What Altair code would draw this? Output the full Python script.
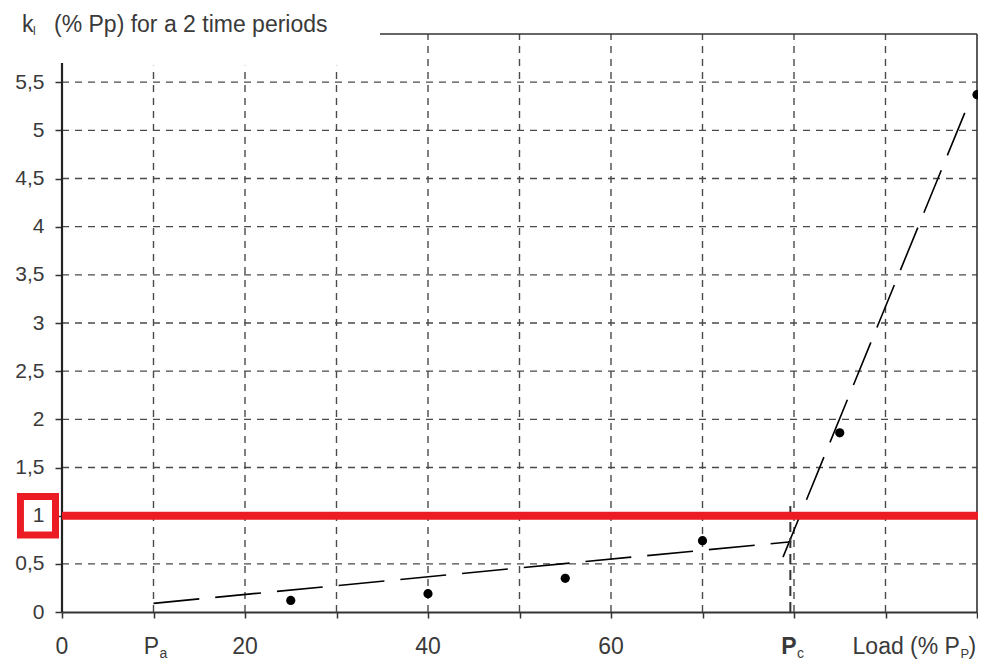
import altair as alt
import pandas as pd

# ---- data ----
load_pct = [25, 40, 55, 70, 85, 100]
kl_values = [0.12, 0.19, 0.35, 0.74, 1.86, 5.37]

fit_low_x = [10, 79.7]
fit_low_y = [0.09, 0.73]
fit_high_x = [78.8, 99.0]
fit_high_y = [0.57, 5.26]

pc_x = [79.6]
pc_y_from = [0.0]
pc_y_to = [1.1]

y_tick_values = [0, 0.5, 1, 1.5, 2, 2.5, 3, 3.5, 4, 4.5, 5, 5.5]
x_tick_values = [0, 10, 20, 30, 40, 50, 60, 70, 80, 90, 100]
grid_y = [0.5, 1, 1.5, 2, 2.5, 3, 3.5, 4, 4.5, 5, 5.5]
grid_x = [10, 20, 30, 40, 50, 60, 70, 80, 90]
grid_x_top = [5.67, 5.67, 5.67, 6, 6, 6, 6, 6, 6]

x_num_labels = [0, 20, 40, 60]
x_num_text = ["0", "20", "40", "60"]

threshold = [1.0]
threshold_x_end = [101.5]

box_x = [-4.54]
box_x2 = [-0.71]
box_y = [0.80]
box_y2 = [1.198]

title_main = "(% Pp) for a 2 time periods"

FONT = "Liberation Sans"
GREY = "#3a3a3a"
RED = "#ec1c24"

xs = alt.Scale(domain=[0, 100], nice=False, zero=False)
ys = alt.Scale(domain=[0, 6], nice=False, zero=False)

X = lambda f="x": alt.X(f"{f}:Q", scale=xs, title=None)
Y = lambda f="y": alt.Y(f"{f}:Q", scale=ys, title=None)

# ---- base layer with axes ----
pts_df = pd.DataFrame({"x": load_pct, "y": kl_values})
points = alt.Chart(pts_df).mark_circle(size=85, color="black", opacity=1).encode(
    x=alt.X("x:Q", scale=xs, title=None,
            axis=alt.Axis(values=x_tick_values, labels=False, grid=False,
                          domainColor="#333", domainWidth=2, tickColor="#333",
                          tickWidth=1.5, tickSize=6)),
    y=alt.Y("y:Q", scale=ys, title=None,
            axis=alt.Axis(values=y_tick_values, grid=False, domain=False,
                          tickColor="#333", tickWidth=1.5, tickSize=7,
                          labelFont=FONT, labelFontSize=21, labelColor=GREY,
                          labelPadding=11,
                          labelExpr="replace(format(datum.value, '~g'), '.', ',')")),
)

# ---- grid ----
hgrid_df = pd.DataFrame({"y": grid_y, "x": [0] * len(grid_y), "x2": [100] * len(grid_y)})
hgrid = alt.Chart(hgrid_df).mark_rule(color="#4a4a4a", strokeWidth=1.4, strokeDash=[7, 6]).encode(
    x=X(), x2="x2:Q", y=Y(),
)
vgrid_df = pd.DataFrame({"x": grid_x, "y": [0] * len(grid_x), "y2": grid_x_top})
vgrid = alt.Chart(vgrid_df).mark_rule(color="#4a4a4a", strokeWidth=1.4, strokeDash=[7, 6]).encode(
    x=X(), y=Y(), y2="y2:Q",
)

# ---- frame ----
left_df = pd.DataFrame({"x": [0], "y": [0], "y2": [5.7]})
left_axis = alt.Chart(left_df).mark_rule(color="#222", strokeWidth=2.2).encode(
    x=X(), y=Y(), y2="y2:Q",
)
right_df = pd.DataFrame({"x": [100], "y": [0], "y2": [6]})
right_border = alt.Chart(right_df).mark_rule(color="#333", strokeWidth=1.6).encode(
    x=X(), y=Y(), y2="y2:Q",
)
top_df = pd.DataFrame({"x": [34.75], "x2": [100], "y": [6]})
top_border = alt.Chart(top_df).mark_rule(color="#333", strokeWidth=1.6).encode(
    x=X(), x2="x2:Q", y=Y(),
)

# ---- fitted dashed lines ----
fit_df = pd.DataFrame({
    "x": fit_low_x + fit_high_x,
    "y": fit_low_y + fit_high_y,
    "seg": ["low", "low", "high", "high"],
})
fits = alt.Chart(fit_df).mark_line(color="black", strokeWidth=1.6, strokeDash=[46, 16]).encode(
    x=X(), y=Y(), detail="seg:N",
)

pc_df = pd.DataFrame({"x": pc_x, "y": pc_y_from, "y2": pc_y_to})
pc_line = alt.Chart(pc_df).mark_rule(color="#333", strokeWidth=2, strokeDash=[10, 6]).encode(
    x=X(), y=Y(), y2="y2:Q",
)

# ---- red threshold ----
red_df = pd.DataFrame({"x": [0], "x2": threshold_x_end, "y": threshold})
red_line = alt.Chart(red_df).mark_rule(color=RED, strokeWidth=8).encode(
    x=X(), x2="x2:Q", y=Y(),
)
box_df = pd.DataFrame({"x": box_x, "x2": box_x2, "y": box_y, "y2": box_y2})
red_box = alt.Chart(box_df).mark_rect(fillOpacity=0, stroke=RED, strokeWidth=7).encode(
    x=X(), x2="x2:Q", y=Y(), y2="y2:Q",
)

# ---- x labels ----
xl_df = pd.DataFrame({"x": x_num_labels, "t": x_num_text, "y": [0] * len(x_num_labels)})
x_labels = alt.Chart(xl_df).mark_text(font=FONT, fontSize=23, color=GREY, baseline="alphabetic",
                                      align="center", dy=42).encode(
    x=X(), y=Y(), text="t:N",
)

def label(text, xv, yv, size, dx, dy, align="left", weight="normal"):
    df = pd.DataFrame({"x": [xv], "y": [yv], "t": [text]})
    return alt.Chart(df).mark_text(font=FONT, fontSize=size, color=GREY, baseline="alphabetic",
                                   align=align, dx=dx, dy=dy, fontWeight=weight).encode(
        x=X(), y=Y(), text="t:N",
    )

pa_p = label("P", 10, 0, 23, -2, 42, align="center")
pa_sub = label("a", 10, 0, 14, 6, 46)
pc_p = label("P", 80, 0, 23, -5, 42, align="center", weight="bold")
pc_sub = label("c", 80, 0, 14, 3, 46)
load_main = label("Load (% P", 86.4, 0, 23, 0, 42)
load_sub = label("P", 86.4, 0, 13, 108, 46)
load_end = label(")", 86.4, 0, 23, 116, 42)

# ---- title ----
t_k = label("k", 0, 6, 23, -40, -2)
t_sub = label("l", 0, 6, 12, -29, 1)
t_main = label(title_main, 0, 6, 23, -8, -2)

chart = alt.layer(
    hgrid, vgrid, left_axis, right_border, top_border, fits, pc_line,
    red_line, red_box, points, x_labels,
    pa_p, pa_sub, pc_p, pc_sub, load_main, load_sub, load_end,
    t_k, t_sub, t_main,
).properties(
    width=915, height=578,
    padding={"left": 54, "top": 26, "right": 1, "bottom": 47},
    autosize=alt.AutoSizeParams(type="none"),
    background="white",
).configure_view(strokeWidth=0)

chart.save("out.html", embed_options={"renderer": "svg", "actions": False})
